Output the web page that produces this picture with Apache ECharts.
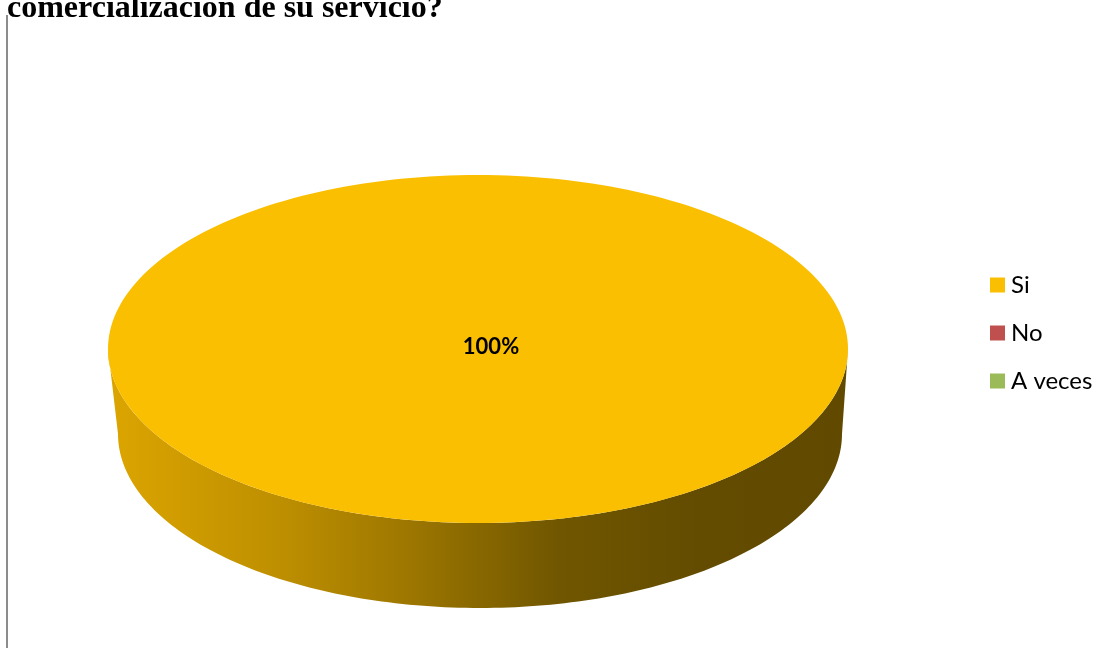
<!DOCTYPE html>
<html>
<head>
<meta charset="utf-8">
<script src="https://cdn.jsdelivr.net/npm/echarts@6/dist/echarts.min.js"></script>
<style>
  html, body { margin: 0; padding: 0; background: #ffffff; }
  #chart { width: 1106px; height: 648px; }
</style>
</head>
<body>
<div id="chart"></div>
<script>
// Survey answers and their shares (percent)
const categories = ['Si', 'No', 'A veces'];
const values = [100, 0, 0];
const colors = ['#FABF00', '#C0504D', '#9BBB59'];
const titleText = 'comercialización de su servicio?';

const total = values.reduce((a, b) => a + b, 0);

// Geometry of the tilted disc: top face and the (slightly narrower) bottom rim
const TOP = { cx: 478, cy: 349, rx: 370, ry: 174 };
const BOT = { cx: 480, cy: 434, rx: 362, ry: 174 };

// angle measured clockwise from 12 o'clock
function pt(e, a) {
  return [e.cx + e.rx * Math.sin(a), e.cy - e.ry * Math.cos(a)];
}
function arc(e, a0, a1, steps) {
  const out = [];
  for (let i = 0; i <= steps; i++) out.push(pt(e, a0 + (a1 - a0) * i / steps));
  return out;
}

// darkening shade along the rim, left to right
const sideStops = [
  { offset: 0.00, color: '#DCA500' },
  { offset: 0.23, color: '#BE8F00' },
  { offset: 0.39, color: '#A07900' },
  { offset: 0.61, color: '#705600' },
  { offset: 0.80, color: '#634C00' },
  { offset: 1.00, color: '#614A00' }
];

function renderSlice(catIndex) {
  return function (params, api) {
    const v = api.value(0);
    if (!v || total <= 0) return null;
    let before = 0;
    for (let i = 0; i < catIndex; i++) before += values[i];
    const a0 = before / total * Math.PI * 2;
    const a1 = (before + v) / total * Math.PI * 2;
    const steps = Math.max(8, Math.ceil((a1 - a0) / (Math.PI * 2) * 240));
    const children = [];

    // front rim: portion of the slice lying on the near half of the disc
    const s = Math.max(a0, Math.PI / 2);
    const e = Math.min(a1, Math.PI * 1.5);
    if (e > s) {
      const n = Math.max(4, Math.ceil((e - s) / Math.PI * 160));
      const pts = arc(TOP, s, e, n).concat(arc(BOT, e, s, n));
      children.push({
        type: 'polygon',
        z2: 1,
        shape: { points: pts },
        style: {
          fill: new echarts.graphic.LinearGradient(TOP.cx - TOP.rx, 0, TOP.cx + TOP.rx, 0, sideStops, true)
        }
      });
    }

    // top face
    const topPts = [[TOP.cx, TOP.cy]].concat(arc(TOP, a0, a1, steps));
    children.push({
      type: 'polygon',
      z2: 2,
      shape: { points: topPts },
      style: { fill: colors[catIndex] }
    });

    // percentage label
    const frac = v / total;
    let lx, ly;
    if (frac >= 0.999) {
      lx = TOP.cx + 13; ly = TOP.cy - 2;
    } else {
      const m = (a0 + a1) / 2;
      lx = TOP.cx + TOP.rx * 0.6 * Math.sin(m);
      ly = TOP.cy - TOP.ry * 0.6 * Math.cos(m);
    }
    children.push({
      type: 'text',
      z2: 3,
      style: {
        x: lx, y: ly,
        text: Math.round(frac * 100) + '%',
        fill: '#000000',
        font: 'bold 22px Lato, "Open Sans", sans-serif',
        align: 'center',
        verticalAlign: 'middle'
      }
    });
    return { type: 'group', children: children };
  };
}

const chart = echarts.init(document.getElementById('chart'), null, { renderer: 'canvas' });

chart.setOption({
  animation: false,
  backgroundColor: '#ffffff',
  graphic: [
    {
      type: 'line',
      shape: { x1: 7, y1: 15, x2: 7, y2: 648 },
      style: { stroke: '#8C8C8C', lineWidth: 2 }
    },
    {
      type: 'text',
      left: 7,
      top: -7,
      style: {
        text: titleText,
        fill: '#000000',
        font: 'bold 32px "Liberation Serif", "Times New Roman", serif'
      }
    }
  ],
  legend: {
    orient: 'vertical',
    left: 985,
    top: 268,
    icon: 'rect',
    itemWidth: 15,
    itemHeight: 15,
    itemGap: 24,
    data: categories,
    textStyle: {
      fontFamily: 'Lato, "Open Sans", sans-serif',
      fontSize: 24,
      lineHeight: 24,
      color: '#000000',
      padding: [0, 0, 0, 1]
    }
  },
  series: categories.map((name, i) => ({
    type: 'custom',
    name: name,
    coordinateSystem: 'none',
    itemStyle: { color: colors[i] },
    renderItem: renderSlice(i),
    data: [[values[i]]]
  }))
});
</script>
</body>
</html>
